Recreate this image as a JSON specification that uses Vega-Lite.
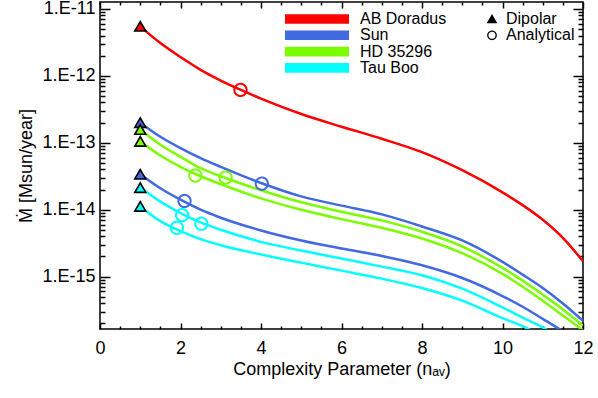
{
  "$schema": "https://vega.github.io/schema/vega-lite/v6.json",
  "width": 483,
  "height": 327,
  "autosize": {"type": "none"},
  "padding": {"left": 100, "top": 2, "right": 15, "bottom": 69},
  "background": "white",
  "config": {
    "view": {"stroke": "black", "strokeWidth": 1.5},
    "font": "Liberation Sans"
  },
  "datasets": {
    "lines": [
      {"star": "AB Doradus", "curve": "r", "x": 1, "y": 5.50e-12},
      {"star": "AB Doradus", "curve": "r", "x": 1.5, "y": 3.09e-12},
      {"star": "AB Doradus", "curve": "r", "x": 2, "y": 1.91e-12},
      {"star": "AB Doradus", "curve": "r", "x": 2.5, "y": 1.23e-12},
      {"star": "AB Doradus", "curve": "r", "x": 3, "y": 8.51e-13},
      {"star": "AB Doradus", "curve": "r", "x": 3.5, "y": 6.17e-13},
      {"star": "AB Doradus", "curve": "r", "x": 4, "y": 4.57e-13},
      {"star": "AB Doradus", "curve": "r", "x": 5, "y": 2.69e-13},
      {"star": "AB Doradus", "curve": "r", "x": 6, "y": 1.74e-13},
      {"star": "AB Doradus", "curve": "r", "x": 7, "y": 1.15e-13},
      {"star": "AB Doradus", "curve": "r", "x": 8, "y": 7.24e-14},
      {"star": "AB Doradus", "curve": "r", "x": 9, "y": 3.89e-14},
      {"star": "AB Doradus", "curve": "r", "x": 10, "y": 1.82e-14},
      {"star": "AB Doradus", "curve": "r", "x": 10.5, "y": 1.17e-14},
      {"star": "AB Doradus", "curve": "r", "x": 11, "y": 7.08e-15},
      {"star": "AB Doradus", "curve": "r", "x": 11.5, "y": 3.80e-15},
      {"star": "AB Doradus", "curve": "r", "x": 12, "y": 1.70e-15},

      {"star": "Sun", "curve": "s1", "x": 1, "y": 2.00e-13},
      {"star": "Sun", "curve": "s1", "x": 1.5, "y": 1.23e-13},
      {"star": "Sun", "curve": "s1", "x": 2, "y": 8.32e-14},
      {"star": "Sun", "curve": "s1", "x": 2.5, "y": 5.89e-14},
      {"star": "Sun", "curve": "s1", "x": 3, "y": 4.37e-14},
      {"star": "Sun", "curve": "s1", "x": 4, "y": 2.51e-14},
      {"star": "Sun", "curve": "s1", "x": 5, "y": 1.58e-14},
      {"star": "Sun", "curve": "s1", "x": 6, "y": 1.15e-14},
      {"star": "Sun", "curve": "s1", "x": 7, "y": 8.51e-15},
      {"star": "Sun", "curve": "s1", "x": 8, "y": 5.62e-15},
      {"star": "Sun", "curve": "s1", "x": 9, "y": 3.47e-15},
      {"star": "Sun", "curve": "s1", "x": 10, "y": 1.66e-15},
      {"star": "Sun", "curve": "s1", "x": 10.5, "y": 1.07e-15},
      {"star": "Sun", "curve": "s1", "x": 11, "y": 6.76e-16},
      {"star": "Sun", "curve": "s1", "x": 11.5, "y": 3.98e-16},
      {"star": "Sun", "curve": "s1", "x": 12, "y": 2.19e-16},

      {"star": "HD 35296", "curve": "h1", "x": 1, "y": 1.58e-13},
      {"star": "HD 35296", "curve": "h1", "x": 1.5, "y": 9.33e-14},
      {"star": "HD 35296", "curve": "h1", "x": 2, "y": 6.17e-14},
      {"star": "HD 35296", "curve": "h1", "x": 2.5, "y": 4.17e-14},
      {"star": "HD 35296", "curve": "h1", "x": 3, "y": 3.16e-14},
      {"star": "HD 35296", "curve": "h1", "x": 4, "y": 1.95e-14},
      {"star": "HD 35296", "curve": "h1", "x": 5, "y": 1.29e-14},
      {"star": "HD 35296", "curve": "h1", "x": 6, "y": 9.33e-15},
      {"star": "HD 35296", "curve": "h1", "x": 7, "y": 6.92e-15},
      {"star": "HD 35296", "curve": "h1", "x": 8, "y": 4.68e-15},
      {"star": "HD 35296", "curve": "h1", "x": 9, "y": 2.82e-15},
      {"star": "HD 35296", "curve": "h1", "x": 10, "y": 1.35e-15},
      {"star": "HD 35296", "curve": "h1", "x": 10.5, "y": 8.71e-16},
      {"star": "HD 35296", "curve": "h1", "x": 11, "y": 5.37e-16},
      {"star": "HD 35296", "curve": "h1", "x": 11.5, "y": 3.24e-16},
      {"star": "HD 35296", "curve": "h1", "x": 12, "y": 1.86e-16},

      {"star": "HD 35296", "curve": "h2", "x": 1, "y": 1.05e-13},
      {"star": "HD 35296", "curve": "h2", "x": 1.5, "y": 6.46e-14},
      {"star": "HD 35296", "curve": "h2", "x": 2, "y": 4.37e-14},
      {"star": "HD 35296", "curve": "h2", "x": 2.5, "y": 3.16e-14},
      {"star": "HD 35296", "curve": "h2", "x": 3, "y": 2.40e-14},
      {"star": "HD 35296", "curve": "h2", "x": 4, "y": 1.48e-14},
      {"star": "HD 35296", "curve": "h2", "x": 5, "y": 1.00e-14},
      {"star": "HD 35296", "curve": "h2", "x": 6, "y": 7.24e-15},
      {"star": "HD 35296", "curve": "h2", "x": 7, "y": 5.37e-15},
      {"star": "HD 35296", "curve": "h2", "x": 8, "y": 3.72e-15},
      {"star": "HD 35296", "curve": "h2", "x": 9, "y": 2.24e-15},
      {"star": "HD 35296", "curve": "h2", "x": 10, "y": 1.10e-15},
      {"star": "HD 35296", "curve": "h2", "x": 10.5, "y": 7.08e-16},
      {"star": "HD 35296", "curve": "h2", "x": 11, "y": 4.37e-16},
      {"star": "HD 35296", "curve": "h2", "x": 11.5, "y": 2.63e-16},
      {"star": "HD 35296", "curve": "h2", "x": 12, "y": 1.58e-16},

      {"star": "Sun", "curve": "s2", "x": 1, "y": 3.39e-14},
      {"star": "Sun", "curve": "s2", "x": 1.5, "y": 2.09e-14},
      {"star": "Sun", "curve": "s2", "x": 2, "y": 1.41e-14},
      {"star": "Sun", "curve": "s2", "x": 2.5, "y": 1.00e-14},
      {"star": "Sun", "curve": "s2", "x": 3, "y": 7.59e-15},
      {"star": "Sun", "curve": "s2", "x": 4, "y": 4.90e-15},
      {"star": "Sun", "curve": "s2", "x": 5, "y": 3.47e-15},
      {"star": "Sun", "curve": "s2", "x": 6, "y": 2.63e-15},
      {"star": "Sun", "curve": "s2", "x": 7, "y": 2.04e-15},
      {"star": "Sun", "curve": "s2", "x": 8, "y": 1.48e-15},
      {"star": "Sun", "curve": "s2", "x": 9, "y": 9.55e-16},
      {"star": "Sun", "curve": "s2", "x": 10, "y": 5.13e-16},
      {"star": "Sun", "curve": "s2", "x": 10.5, "y": 3.55e-16},
      {"star": "Sun", "curve": "s2", "x": 11, "y": 2.34e-16},
      {"star": "Sun", "curve": "s2", "x": 11.5, "y": 1.51e-16},
      {"star": "Sun", "curve": "s2", "x": 12, "y": 8.91e-17},

      {"star": "Tau Boo", "curve": "t1", "x": 1, "y": 2.14e-14},
      {"star": "Tau Boo", "curve": "t1", "x": 1.5, "y": 1.32e-14},
      {"star": "Tau Boo", "curve": "t1", "x": 2, "y": 8.91e-15},
      {"star": "Tau Boo", "curve": "t1", "x": 2.5, "y": 6.46e-15},
      {"star": "Tau Boo", "curve": "t1", "x": 3, "y": 5.01e-15},
      {"star": "Tau Boo", "curve": "t1", "x": 4, "y": 3.31e-15},
      {"star": "Tau Boo", "curve": "t1", "x": 5, "y": 2.45e-15},
      {"star": "Tau Boo", "curve": "t1", "x": 6, "y": 1.86e-15},
      {"star": "Tau Boo", "curve": "t1", "x": 7, "y": 1.41e-15},
      {"star": "Tau Boo", "curve": "t1", "x": 8, "y": 1.05e-15},
      {"star": "Tau Boo", "curve": "t1", "x": 9, "y": 6.61e-16},
      {"star": "Tau Boo", "curve": "t1", "x": 10, "y": 3.47e-16},
      {"star": "Tau Boo", "curve": "t1", "x": 10.5, "y": 2.45e-16},
      {"star": "Tau Boo", "curve": "t1", "x": 11, "y": 1.74e-16},
      {"star": "Tau Boo", "curve": "t1", "x": 11.5, "y": 1.12e-16},

      {"star": "Tau Boo", "curve": "t2", "x": 1, "y": 1.12e-14},
      {"star": "Tau Boo", "curve": "t2", "x": 1.5, "y": 6.76e-15},
      {"star": "Tau Boo", "curve": "t2", "x": 2, "y": 4.79e-15},
      {"star": "Tau Boo", "curve": "t2", "x": 2.5, "y": 3.63e-15},
      {"star": "Tau Boo", "curve": "t2", "x": 3, "y": 2.95e-15},
      {"star": "Tau Boo", "curve": "t2", "x": 4, "y": 2.14e-15},
      {"star": "Tau Boo", "curve": "t2", "x": 5, "y": 1.62e-15},
      {"star": "Tau Boo", "curve": "t2", "x": 6, "y": 1.23e-15},
      {"star": "Tau Boo", "curve": "t2", "x": 7, "y": 9.33e-16},
      {"star": "Tau Boo", "curve": "t2", "x": 8, "y": 6.76e-16},
      {"star": "Tau Boo", "curve": "t2", "x": 9, "y": 4.37e-16},
      {"star": "Tau Boo", "curve": "t2", "x": 10, "y": 2.40e-16},
      {"star": "Tau Boo", "curve": "t2", "x": 10.5, "y": 1.82e-16},
      {"star": "Tau Boo", "curve": "t2", "x": 11, "y": 1.26e-16}
    ],
    "dipolar": [
      {"star": "AB Doradus", "type": "Dipolar", "x": 1, "y": 5.50e-12},
      {"star": "Sun", "type": "Dipolar", "x": 1, "y": 2.00e-13},
      {"star": "HD 35296", "type": "Dipolar", "x": 1, "y": 1.58e-13},
      {"star": "HD 35296", "type": "Dipolar", "x": 1, "y": 1.05e-13},
      {"star": "Sun", "type": "Dipolar", "x": 1, "y": 3.39e-14},
      {"star": "Tau Boo", "type": "Dipolar", "x": 1, "y": 2.14e-14},
      {"star": "Tau Boo", "type": "Dipolar", "x": 1, "y": 1.12e-14}
    ],
    "analytical": [
      {"star": "AB Doradus", "type": "Analytical", "x": 3.49, "y": 6.17e-13},
      {"star": "HD 35296", "type": "Analytical", "x": 2.37, "y": 3.24e-14},
      {"star": "HD 35296", "type": "Analytical", "x": 3.12, "y": 3.02e-14},
      {"star": "Sun", "type": "Analytical", "x": 4.02, "y": 2.45e-14},
      {"star": "Sun", "type": "Analytical", "x": 2.10, "y": 1.35e-14},
      {"star": "Tau Boo", "type": "Analytical", "x": 2.04, "y": 8.32e-15},
      {"star": "Tau Boo", "type": "Analytical", "x": 2.52, "y": 6.17e-15},
      {"star": "Tau Boo", "type": "Analytical", "x": 1.91, "y": 5.37e-15}
    ]
  },
  "resolve": {"axis": {"x": "independent", "y": "independent"}},
  "layer": [
    {
      "data": {"name": "lines"},
      "mark": {"type": "line", "interpolate": "monotone", "strokeWidth": 2.5, "clip": true},
      "encoding": {
        "x": {
          "field": "x", "type": "quantitative",
          "scale": {"domain": [0, 12], "nice": false, "zero": false},
          "axis": {
            "orient": "bottom",
            "values": [0, 0.5, 1, 1.5, 2, 2.5, 3, 3.5, 4, 4.5, 5, 5.5, 6, 6.5, 7, 7.5, 8, 8.5, 9, 9.5, 10, 10.5, 11, 11.5, 12],
            "domain": false, "grid": false,
            "tickColor": "black", "tickWidth": 1.5,
            "tickSize": {"condition": {"test": "datum.value % 2 === 0", "value": -6}, "value": -3},
            "labelExpr": "datum.value % 2 === 0 ? format(datum.value, 'd') : ''",
            "labelFont": "Liberation Sans", "labelFontSize": 18, "labelColor": "black",
            "labelPadding": 16, "labelOverlap": false, "labelFlush": false, "labelBound": false,
            "title": "Complexity Parameter (nₐᵥ)",
            "titleFont": "Liberation Sans", "titleFontSize": 18, "titleFontWeight": "normal", "titleColor": "black",
            "titlePadding": 0
          }
        },
        "y": {
          "field": "y", "type": "quantitative",
          "scale": {"type": "log", "domain": [1.65e-16, 1.27e-11], "nice": false},
          "axis": {
            "orient": "left",
            "values": [1e-15, 1e-14, 1e-13, 1e-12, 1e-11,
              2e-16, 3e-16, 4e-16, 5e-16, 6e-16, 7e-16, 8e-16, 9e-16,
              2e-15, 3e-15, 4e-15, 5e-15, 6e-15, 7e-15, 8e-15, 9e-15,
              2e-14, 3e-14, 4e-14, 5e-14, 6e-14, 7e-14, 8e-14, 9e-14,
              2e-13, 3e-13, 4e-13, 5e-13, 6e-13, 7e-13, 8e-13, 9e-13,
              2e-12, 3e-12, 4e-12, 5e-12, 6e-12, 7e-12, 8e-12, 9e-12],
            "domain": false, "grid": false,
            "tickColor": "black", "tickWidth": 1.5,
            "tickSize": {"condition": {"test": "abs(log(datum.value)/LN10 - round(log(datum.value)/LN10)) < 0.001", "value": -10}, "value": -5},
            "labelExpr": "abs(log(datum.value)/LN10 - round(log(datum.value)/LN10)) < 0.001 ? '1.E' + round(log(datum.value)/LN10) : ''",
            "labelFont": "Liberation Sans", "labelFontSize": 18, "labelColor": "black",
            "labelPadding": 15, "labelOverlap": false, "labelFlush": false, "labelBound": false,
            "title": "Ṁ [Msun/year]",
            "titleFont": "Liberation Sans", "titleFontSize": 18, "titleFontWeight": "normal", "titleColor": "black",
            "titlePadding": 6
          }
        },
        "color": {
          "field": "star", "type": "nominal",
          "scale": {"domain": ["AB Doradus", "Sun", "HD 35296", "Tau Boo"], "range": ["#ff0000", "#4169e1", "#7cfc00", "#00ffff"]},
          "legend": {
            "orient": "none", "legendX": 209, "legendY": 9, "title": null, "padding": 0,
            "symbolType": "M-4,-0.6H4V0.6H-4Z", "symbolSize": 256, "symbolStrokeWidth": 0,
            "labelFont": "Liberation Sans", "labelFontSize": 16, "labelColor": "black", "labelOffset": 35,
            "rowPadding": 0.3
          }
        },
        "detail": {"field": "curve"}
      }
    },
    {
      "data": {"name": "dipolar"},
      "mark": {"type": "point", "filled": true, "stroke": "black", "strokeWidth": 1.6, "size": 120, "opacity": 1},
      "encoding": {
        "x": {
          "field": "x", "type": "quantitative",
          "axis": {
            "orient": "top",
            "values": [0, 0.5, 1, 1.5, 2, 2.5, 3, 3.5, 4, 4.5, 5, 5.5, 6, 6.5, 7, 7.5, 8, 8.5, 9, 9.5, 10, 10.5, 11, 11.5, 12],
            "domain": false, "grid": false, "labels": false, "title": null,
            "tickColor": "black", "tickWidth": 1.5,
            "tickSize": {"condition": {"test": "datum.value % 2 === 0", "value": -6}, "value": -3}
          }
        },
        "y": {
          "field": "y", "type": "quantitative",
          "axis": {
            "orient": "right",
            "values": [1e-15, 1e-14, 1e-13, 1e-12, 1e-11,
              2e-16, 3e-16, 4e-16, 5e-16, 6e-16, 7e-16, 8e-16, 9e-16,
              2e-15, 3e-15, 4e-15, 5e-15, 6e-15, 7e-15, 8e-15, 9e-15,
              2e-14, 3e-14, 4e-14, 5e-14, 6e-14, 7e-14, 8e-14, 9e-14,
              2e-13, 3e-13, 4e-13, 5e-13, 6e-13, 7e-13, 8e-13, 9e-13,
              2e-12, 3e-12, 4e-12, 5e-12, 6e-12, 7e-12, 8e-12, 9e-12],
            "domain": false, "grid": false, "labels": false, "title": null,
            "tickColor": "black", "tickWidth": 1.5,
            "tickSize": {"condition": {"test": "abs(log(datum.value)/LN10 - round(log(datum.value)/LN10)) < 0.001", "value": -10}, "value": -5}
          }
        },
        "color": {"field": "star", "type": "nominal"},
        "shape": {
          "field": "type", "type": "nominal",
          "scale": {"domain": ["Dipolar"], "range": ["triangle-up"]},
          "legend": {
            "orient": "none", "legendX": 384, "legendY": 9, "title": null, "padding": 0,
            "symbolSize": 70, "symbolStrokeWidth": 1.3,
            "labelFont": "Liberation Sans", "labelFontSize": 16, "labelColor": "black", "labelOffset": 6
          }
        }
      }
    },
    {
      "data": {"name": "analytical"},
      "mark": {"type": "point", "shape": "circle", "filled": false, "strokeWidth": 2, "size": 150, "opacity": 1},
      "encoding": {
        "x": {"field": "x", "type": "quantitative", "axis": null},
        "y": {"field": "y", "type": "quantitative", "axis": null},
        "color": {"field": "star", "type": "nominal"},
        "strokeDash": {
          "field": "type", "type": "nominal",
          "scale": {"domain": ["Analytical"], "range": [[1, 0]]},
          "legend": {
            "orient": "none", "legendX": 384, "legendY": 25.3, "title": null, "padding": 0,
            "symbolType": "circle", "symbolSize": 70, "symbolStrokeWidth": 1.3, "symbolStrokeColor": "black",
            "symbolFillColor": "transparent",
            "labelFont": "Liberation Sans", "labelFontSize": 16, "labelColor": "black", "labelOffset": 6
          }
        }
      }
    }
  ]
}
